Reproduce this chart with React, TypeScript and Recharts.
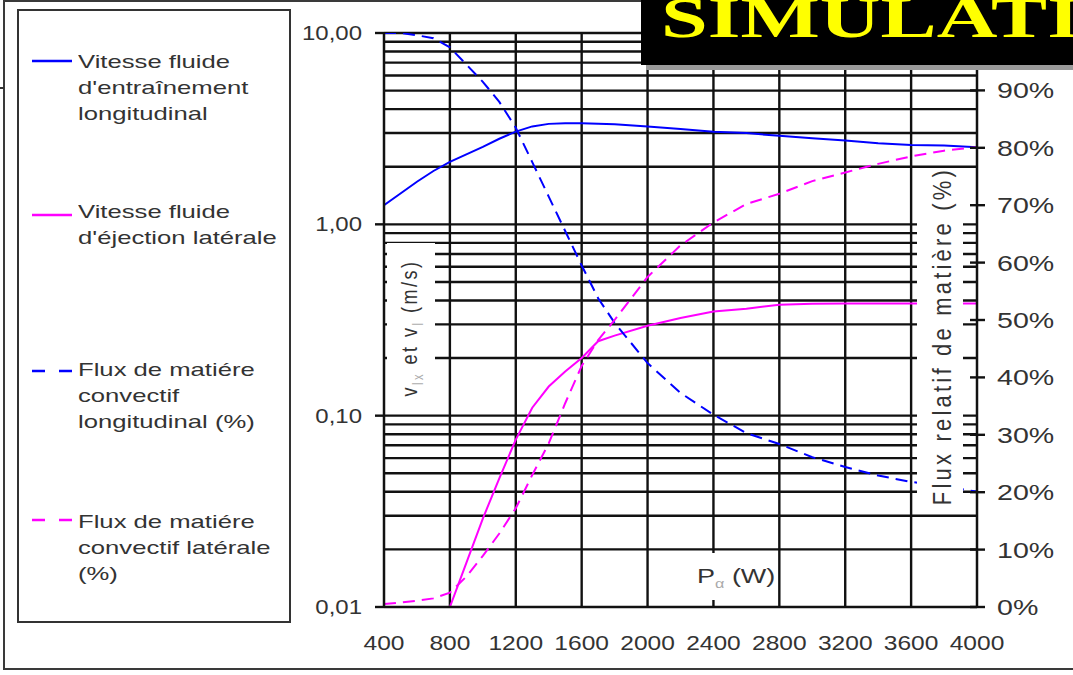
import React from 'react';
import { LineChart, Line, XAxis, YAxis, CartesianGrid } from 'recharts';

// ---------- data ----------
const powerW = [400, 500, 600, 700, 800, 900, 1000, 1100, 1200, 1300, 1400, 1500, 1600, 1700, 1800, 2000, 2200, 2400, 2600, 2800, 3000, 3200, 3400, 3600, 3800, 4000];
const vEntrainement = [1.26, 1.45, 1.67, 1.9, 2.12, 2.32, 2.54, 2.8, 3.05, 3.25, 3.35, 3.38, 3.38, 3.36, 3.33, 3.25, 3.15, 3.05, 3.0, 2.9, 2.82, 2.74, 2.65, 2.6, 2.58, 2.53];
const vEjection = [null, null, null, null, 0.01, 0.017, 0.029, 0.047, 0.075, 0.11, 0.142, 0.17, 0.2, 0.245, 0.262, 0.295, 0.324, 0.35, 0.362, 0.38, 0.385, 0.386, 0.386, 0.386, 0.386, 0.386];
const fluxLongitudinal = [100, 100, 99.6, 99.1, 97.5, 94.5, 91.5, 88, 83.5, 77.5, 71.5, 65.5, 59.5, 53.8, 49.5, 42.5, 37.3, 33.5, 30.3, 28.4, 26.1, 24.4, 22.9, 21.8, 21, 20.1];
const fluxLateral = [0.5, 0.8, 1.1, 1.5, 2.5, 5.3, 8.9, 12.8, 17.2, 23, 28.5, 35.5, 42, 46.5, 50, 57.5, 63, 67, 70.2, 72, 74.2, 75.7, 77.2, 78.5, 79.5, 80.1];

const xTicks = [400, 800, 1200, 1600, 2000, 2400, 2800, 3200, 3600, 4000];
const xGrid = [800, 1200, 1600, 2000, 2400, 2800, 3200, 3600];
const leftTicks = [0.01, 0.1, 1, 10];
const leftTickLabels = ['0,01', '0,10', '1,00', '10,00'];
const rightTicks = [0, 10, 20, 30, 40, 50, 60, 70, 80, 90];
const rightTickLabels = ['0%', '10%', '20%', '30%', '40%', '50%', '60%', '70%', '80%', '90%'];
const logGrid = [0.02, 0.03, 0.04, 0.05, 0.06, 0.07, 0.08, 0.09, 0.1, 0.2, 0.3, 0.4, 0.5, 0.6, 0.7, 0.8, 0.9, 1, 2, 3, 4, 5, 6, 7, 8, 9, 10];

const legendEntries = [
  { lines: ['Vitesse fluide', "d'entraînement", 'longitudinal'], color: '#0000ff', dashed: false },
  { lines: ['Vitesse fluide', "d'éjection latérale"], color: '#ff00ff', dashed: false },
  { lines: ['Flux de matiére', 'convectif', 'longitudinal (%)'], color: '#0000ff', dashed: true },
  { lines: ['Flux de matiére', 'convectif latérale', '(%)'], color: '#ff00ff', dashed: true },
];

const data = powerW.map((p, i) => ({
  p,
  ve: vEntrainement[i],
  vj: vEjection[i],
  fl: fluxLongitudinal[i],
  fx: fluxLateral[i],
}));

const FONT = "'Liberation Sans', Arial, Helvetica, sans-serif";
const TXT = '#333';
const GRID = '#111';

const XTick = (props: any) => {
  const { x, y, payload } = props;
  return (
    <text transform={`translate(${x} ${y + 43}) scale(1.17 1)`} textAnchor="middle" fontFamily={FONT} fontSize={21} fill={TXT}>
      {String(payload.value)}
    </text>
  );
};

const LeftTick = (props: any) => {
  const { x, y, payload } = props;
  const i = leftTicks.indexOf(payload.value);
  return (
    <text transform={`translate(${x} ${y + 7}) scale(1.2 1)`} textAnchor="end" fontFamily={FONT} fontSize={20} fill={TXT}>
      {i >= 0 ? leftTickLabels[i] : ''}
    </text>
  );
};

const RightTick = (props: any) => {
  const { x, y, payload } = props;
  const i = rightTicks.indexOf(payload.value);
  return (
    <g>
      <line x1={x - 7} x2={x + 8} y1={y} y2={y} stroke={GRID} strokeWidth={2.4} />
      <text transform={`translate(${x + 20} ${y + 8}) scale(1.3 1)`} textAnchor="start" fontFamily={FONT} fontSize={22} fill={TXT}>
        {i >= 0 ? rightTickLabels[i] : ''}
      </text>
    </g>
  );
};

const Legend = () => (
  <div style={{ position: 'absolute', left: 17, top: 9, width: 270, height: 610, border: '2px solid #333', background: '#fff' }}>
    {legendEntries.map((e, k) => {
      const tops = [47, 197, 355, 507];
      const sampleY = [59, 213, 369, 518];
      return (
        <div key={k}>
          <svg style={{ position: 'absolute', left: 0, top: 0 }} width={80} height={600}>
            <line x1={13} x2={e.dashed ? 58 : 53} y1={sampleY[k] - 9} y2={sampleY[k] - 9} stroke={e.color} strokeWidth={2.5} strokeDasharray={e.dashed ? '13 14' : undefined} />
          </svg>
          <div style={{ position: 'absolute', left: 59, top: tops[k] - 9 }}>
            {e.lines.map((t, j) => (
              <div key={j} style={{ height: 26, lineHeight: '26px', whiteSpace: 'nowrap', fontFamily: FONT, fontSize: 19, color: TXT, transform: 'scaleX(1.35)', transformOrigin: 'left center' }}>
                {t}
              </div>
            ))}
          </div>
        </div>
      );
    })}
  </div>
);

export default function App() {
  return (
    <div style={{ position: 'absolute', left: 0, top: 0, width: 1073, height: 675, overflow: 'hidden', background: '#fff' }}>
      <LineChart width={1073} height={675} data={data} margin={{ top: 33, right: 16, bottom: 28, left: 324 }}>
        <CartesianGrid horizontalValues={logGrid} verticalValues={xGrid} stroke={GRID} strokeWidth={2.4} strokeOpacity={1} />
        <XAxis
          dataKey="p"
          type="number"
          domain={[400, 4000]}
          ticks={xTicks}
          interval={0}
          height={40}
          tickSize={0}
          tickMargin={0}
          tickLine={false}
          axisLine={{ stroke: GRID, strokeWidth: 2.4 }}
          tick={<XTick />}
          allowDataOverflow
        />
        <YAxis
          yAxisId={0}
          scale="log"
          type="number"
          domain={[0.01, 10]}
          ticks={leftTicks}
          interval={0}
          width={60}
          tickSize={9}
          tickMargin={13}
          tickLine={{ stroke: GRID, strokeWidth: 2.4 }}
          axisLine={{ stroke: GRID, strokeWidth: 2.5 }}
          tick={<LeftTick />}
          allowDataOverflow
        />
        <YAxis
          yAxisId="pct"
          orientation="right"
          type="number"
          domain={[0, 100]}
          ticks={rightTicks}
          interval={0}
          width={80}
          tickSize={0}
          tickMargin={0}
          tickLine={false}
          axisLine={{ stroke: GRID, strokeWidth: 2.5 }}
          tick={<RightTick />}
          allowDataOverflow
        />
        <Line yAxisId={0} type="linear" dataKey="ve" stroke="#0000ff" strokeWidth={2} dot={false} isAnimationActive={false} />
        <Line yAxisId={0} type="linear" dataKey="vj" stroke="#ff00ff" strokeWidth={2} dot={false} isAnimationActive={false} />
        <Line yAxisId="pct" type="linear" dataKey="fl" stroke="#0000ff" strokeWidth={2} strokeDasharray="12 7" dot={false} isAnimationActive={false} />
        <Line yAxisId="pct" type="linear" dataKey="fx" stroke="#ff00ff" strokeWidth={2} strokeDasharray="12 7" dot={false} isAnimationActive={false} />
      </LineChart>

      {/* left axis title */}
      <div style={{ position: 'absolute', left: 387, top: 243, width: 48, height: 170, background: '#fff' }}>
        <div style={{ position: 'absolute', left: 24, top: 85, transform: 'translate(-50%, -50%) rotate(-90deg) scaleY(1.25)', whiteSpace: 'nowrap', fontFamily: FONT, fontSize: 18, color: TXT, letterSpacing: 2.5 }}>
          v<sub style={{ fontSize: 11, color: '#aaa' }}>lx</sub> et v<sub style={{ fontSize: 11, color: '#aaa' }}>l</sub> (m/s)
        </div>
      </div>

      {/* right axis title */}
      <div style={{ position: 'absolute', left: 917, top: 168, width: 46, height: 345, background: '#fff' }}>
        <div style={{ position: 'absolute', left: 26, top: 168, transform: 'translate(-50%, -50%) rotate(-90deg) scaleY(1.2)', whiteSpace: 'nowrap', fontFamily: FONT, fontSize: 22, color: TXT, letterSpacing: 3.2 }}>
          Flux relatif de matière (%)
        </div>
      </div>

      {/* x axis title */}
      <div style={{ position: 'absolute', left: 690, top: 553, width: 86, height: 47, background: '#fff' }}>
        <div style={{ position: 'absolute', left: 7, top: 10, whiteSpace: 'nowrap', fontFamily: FONT, fontSize: 20, color: TXT, transform: 'scaleX(1.35)', transformOrigin: 'left center', lineHeight: '26px' }}>
          P<sub style={{ fontSize: 12, color: '#aaa' }}>α</sub> (W)
        </div>
      </div>

      <Legend />

      {/* outer frame */}
      <div style={{ position: 'absolute', left: 3, top: 0, width: 1100, height: 670, border: '2px solid #3a3a3a', boxSizing: 'border-box', pointerEvents: 'none' }} />
      <div style={{ position: 'absolute', left: 0, top: 87, width: 4, height: 2, background: '#333' }} />

      {/* banner */}
      <div style={{ position: 'absolute', left: 641, top: 0, width: 440, height: 65, background: '#000', boxShadow: '5px 5px 0 #9a9a9a' }}>
        <svg width={440} height={65} style={{ position: 'absolute', left: 0, top: 0 }}>
          <text transform="translate(20 37) scale(1.45 1)" fontFamily="'Liberation Serif', 'Times New Roman', serif" fontWeight="bold" fontSize={58} fill="#ffff00">
            SIMULATION
          </text>
        </svg>
      </div>
    </div>
  );
}
